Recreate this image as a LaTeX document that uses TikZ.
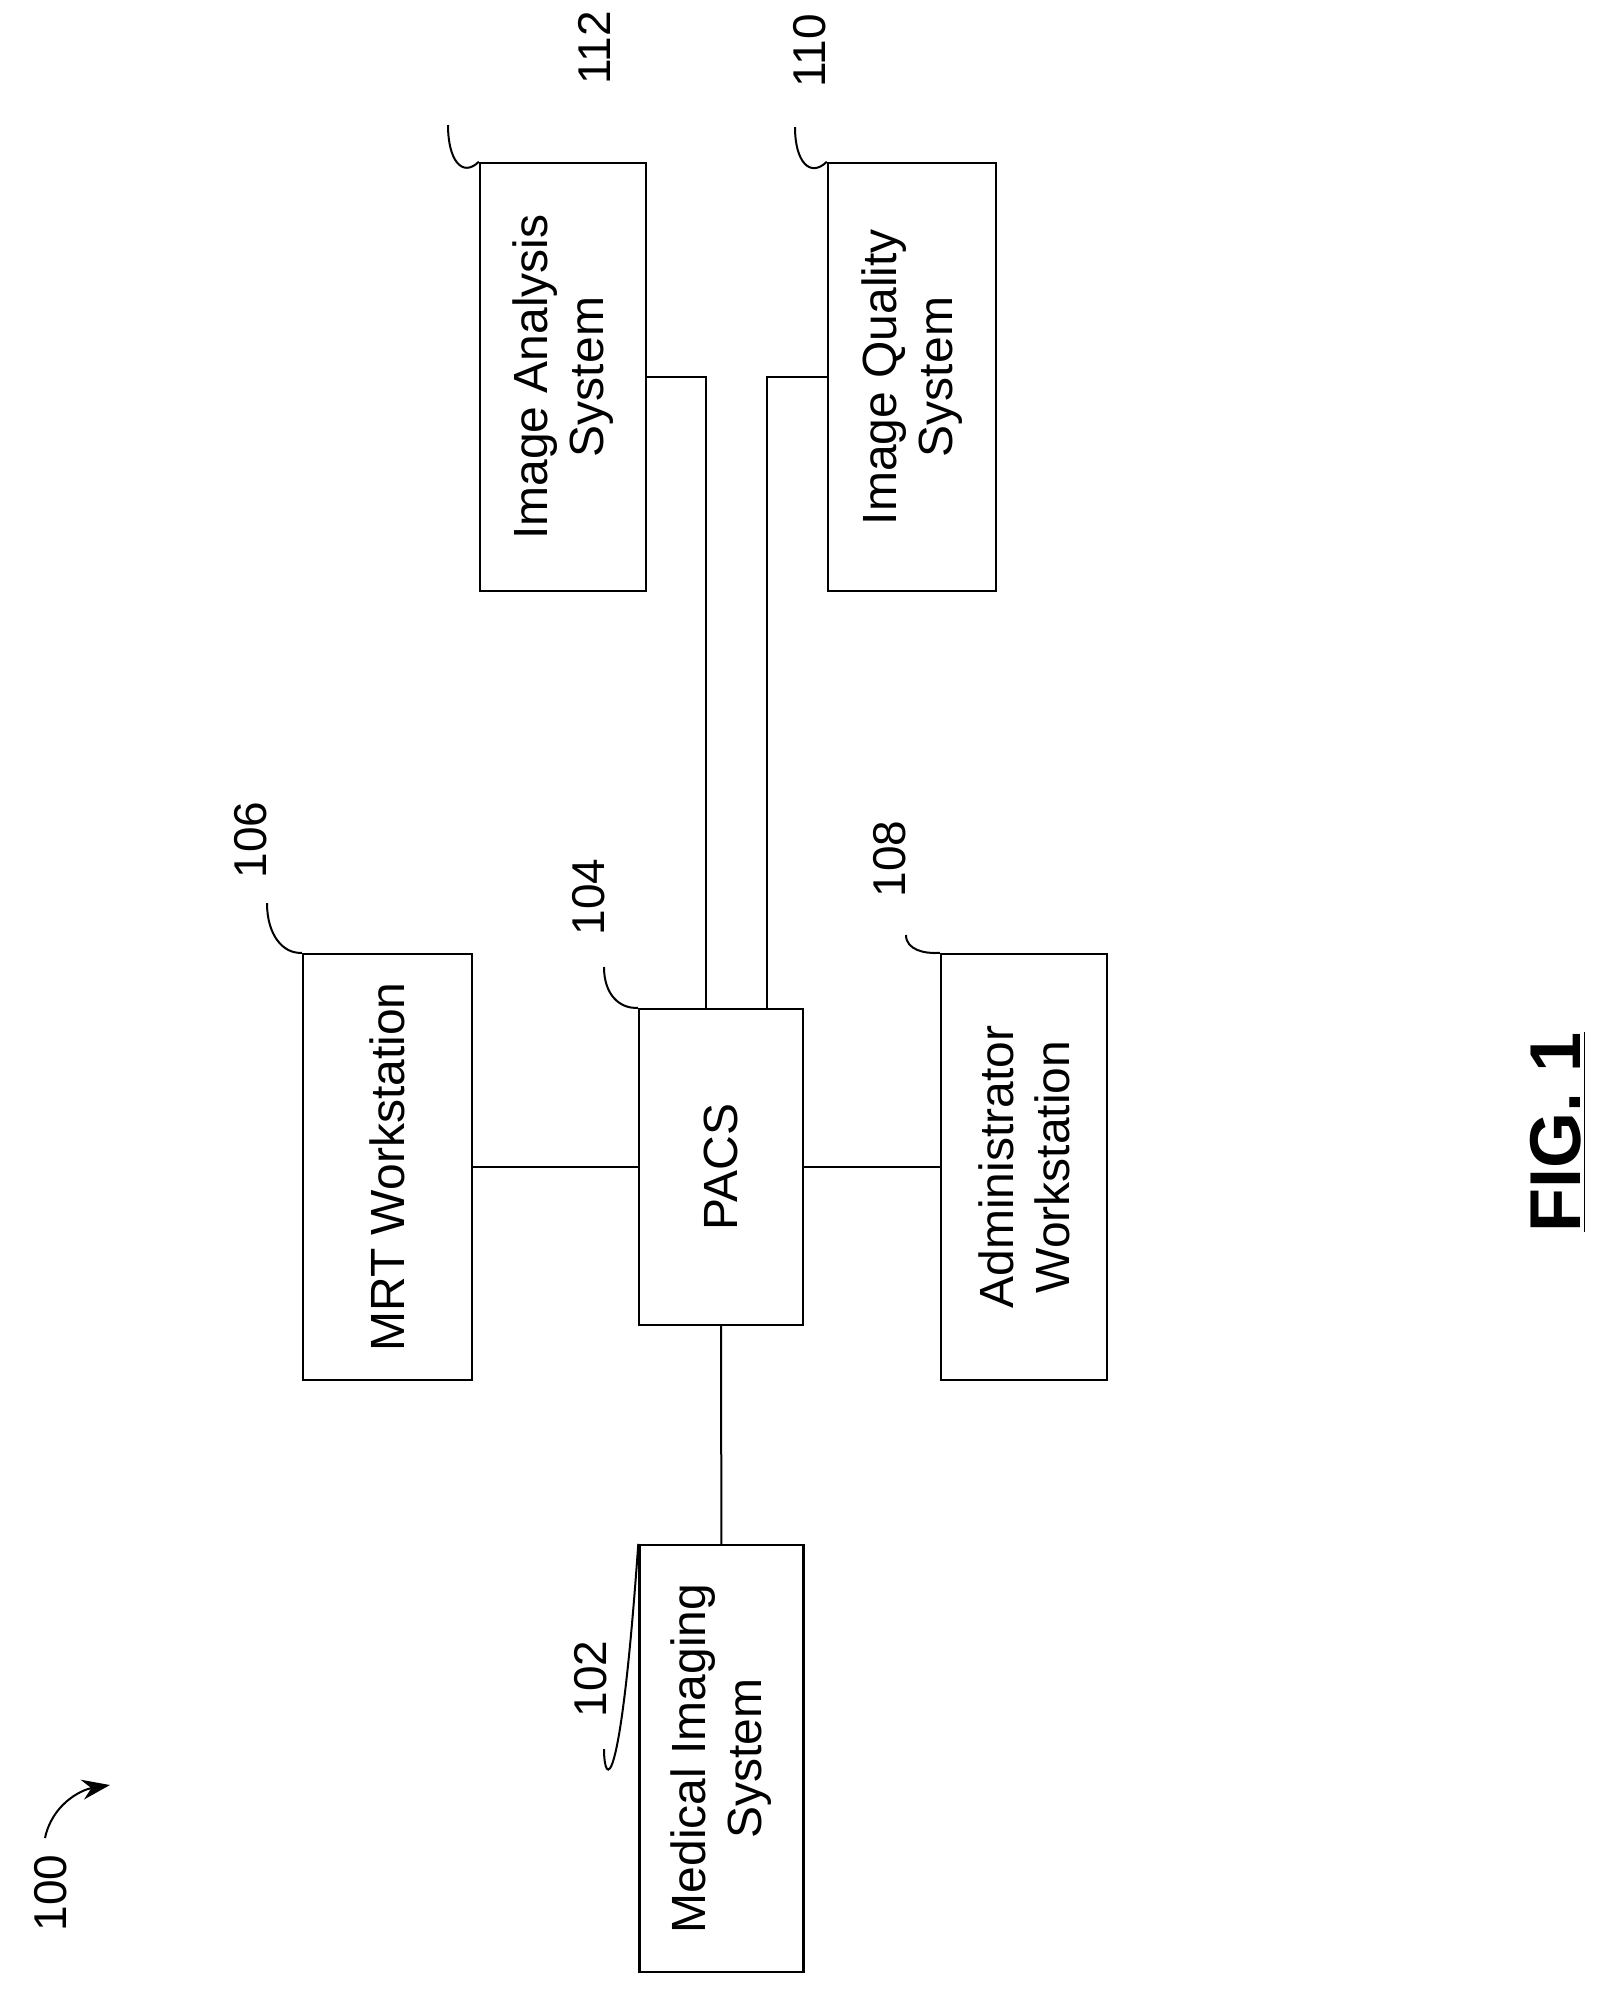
\documentclass[tikz,border=0pt]{standalone}
\usepackage{fontspec}
\setmainfont{Liberation Sans}
\usetikzlibrary{arrows.meta}
\begin{document}
\begin{tikzpicture}[x=0.5pt,y=-0.5pt,
 box/.style={draw,line width=1.2pt,rotate=90,align=center,font=\fontsize{24}{28}\selectfont,inner sep=0pt},
 num/.style={rotate=90,font=\fontsize{23}{26}\selectfont},
 lead/.style={line width=1pt},
 wire/.style={line width=1pt}]
\useasboundingbox (0,0) rectangle (1616,2004);
\node[box,minimum width=427pt/2*2/2*1,minimum height=82pt] (med) at (721.5,1758.5) {Medical Imaging\\System};
\node[box,minimum width=213pt,minimum height=84.5pt] (mrt) at (387.5,1167) {MRT Workstation};
\node[box,minimum width=158pt,minimum height=82pt] (pacs) at (721,1167) {PACS};
\node[box,minimum width=213pt,minimum height=83pt] (adm) at (1024,1167) {Administrator\\Workstation};
\node[box,minimum width=214pt,minimum height=83pt] (ana) at (563,377) {Image Analysis\\System};
\node[box,minimum width=214pt,minimum height=84pt] (qua) at (912,377) {Image Quality\\System};
\draw[wire] (mrt) -- (pacs);
\draw[wire] (pacs) -- (adm);
\draw[wire] (pacs) -- (med);
\draw[wire] (ana.south) -| ([xshift=-7.5pt]pacs.east);
\draw[wire] (qua.north) -| ([xshift=23pt]pacs.east);
\node[num] (n112) at (594,48) {112};
\node[num] (n110) at (810,51) {110};
\node[num] (n106) at (251,840) {106};
\node[num] (n104) at (589,897) {104};
\node[num] (n108) at (890,859) {108};
\node[num] (n102) at (591,1679) {102};
\node[num] (n100) at (51,1893) {100};
\draw[lead] (448,125) .. controls (448,160) and (462,178) .. (ana.north east);
\draw[lead] (795,127) .. controls (795,162) and (810,178) .. (qua.north east);
\draw[lead] (267,903) .. controls (267,935) and (283,954) .. (mrt.north east);
\draw[lead] (604,967) .. controls (604,995) and (620,1009) .. (pacs.north east);
\draw[lead] (906,935) .. controls (906,950) and (925,954) .. (adm.north east);
\draw[lead] (604,1749) .. controls (604,1785) and (620,1545+258) .. (med.north east);
\coordinate (a0) at (45,1838);
\coordinate (a1) at (110,1785);
\draw[lead,-{Stealth[length=14pt,width=10pt]}] (a0) .. controls (52,1805) and (80,1790) .. (a1);
\node[rotate=90,font=\fontsize{36}{40}\selectfont\bfseries] (fig) at (1558,1132) {\underline{FIG. 1}};
\end{tikzpicture}
\end{document}
